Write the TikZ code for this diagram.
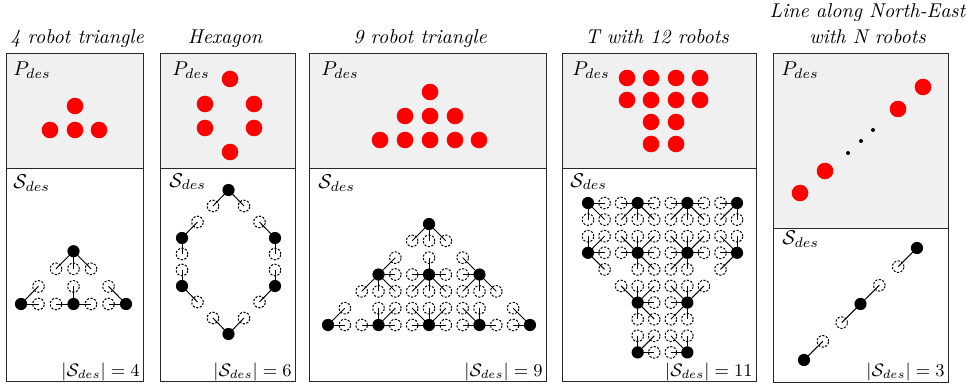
\documentclass[tikz,border=0pt]{standalone}
\usetikzlibrary{calc}
\definecolor{pbg}{RGB}{240,240,240}
\definecolor{frm}{RGB}{40,40,40}
\tikzset{
 bk/.style={circle,fill=black,draw=none,minimum size=6.1pt,inner sep=0pt},
 dc/.style={circle,draw=black,dash pattern=on 1.1pt off 0.75pt,line width=0.5pt,minimum size=5.8pt,inner sep=0pt},
 link/.style={line width=0.5pt},
 rd/.style={circle,fill=red,draw=none,minimum size=8.3pt,inner sep=0pt},
 sd/.style={circle,fill=black,draw=none,minimum size=2pt,inner sep=0pt},
 ttl/.style={font=\itshape,inner sep=0pt,anchor=base},
 lbl/.style={inner sep=0pt,anchor=base west},
 cnt/.style={inner sep=0pt,anchor=base east,font=\small},
 frame/.style={draw=frm,line width=0.5pt},
}
% #1 name, #2 ox, #3 oy, #4 sx, #5 sy, #6 i, #7 j, #8 offsets
\newcommand\rbt[8]{%
  \node[bk] (#1) at ({#2+(#6)*(#4)},{#3+(#7)*(#5)}) {};
  \foreach \dx/\dy [count=\k] in {#8}{
    \node[dc] (#1n\k) at ({#2+((#6)+(\dx))*(#4)},{#3+((#7)+(\dy))*(#5)}) {};
    \draw[link] (#1.center) -- (#1n\k.center);
  }%
}
\begin{document}
\begin{tikzpicture}[x=0.5pt,y=-0.5pt]
\useasboundingbox (0,0) rectangle (975,385);

% ---------- frames ----------
\fill[pbg] (6,54) rectangle (143,169);
\draw[frame] (6,54) rectangle (143,381);
\draw[frame] (6,169) -- (143,169);

\fill[pbg] (160,54) rectangle (295,169);
\draw[frame] (160,54) rectangle (295,381);
\draw[frame] (160,169) -- (295,169);

\fill[pbg] (309,54) rectangle (546,169);
\draw[frame] (309,54) rectangle (546,381);
\draw[frame] (309,169) -- (546,169);

\fill[pbg] (562,54) rectangle (756,169);
\draw[frame] (562,54) rectangle (756,381);
\draw[frame] (562,169) -- (756,169);

\fill[pbg] (773,54) rectangle (948,228);
\draw[frame] (773,54) rectangle (948,382);
\draw[frame] (773,228) -- (948,228);

% ---------- titles ----------
\node[ttl] (t1) at (77,44) {4 robot triangle};
\node[ttl] (t2) at (225,44) {Hexagon};
\node[ttl] (t3) at (420,44) {9 robot triangle};
\node[ttl] (t4) at (657,44) {T with 12 robots};
\node[ttl] (t5a) at (867.5,18) {Line along North-East};
\node[ttl] (t5b) at (867.5,44) {with N robots};

% ---------- labels ----------
\node[lbl] (p1) at (13,76) {$P_{des}$};
\node[lbl] (p2) at (172,76) {$P_{des}$};
\node[lbl] (p3) at (321,76) {$P_{des}$};
\node[lbl] (p4) at (572,76) {$P_{des}$};
\node[lbl] (p5) at (781,76) {$P_{des}$};

\node[lbl] (s1) at (13,189) {$\mathcal{S}_{des}$};
\node[lbl] (s2) at (169,187) {$\mathcal{S}_{des}$};
\node[lbl] (s3) at (318,189) {$\mathcal{S}_{des}$};
\node[lbl] (s4) at (570,187) {$\mathcal{S}_{des}$};
\node[lbl] (s5) at (782,244) {$\mathcal{S}_{des}$};

\node[cnt] (c1) at (140,376) {$|\mathcal{S}_{des}| = 4$};
\node[cnt] (c2) at (292,376) {$|\mathcal{S}_{des}| = 6$};
\node[cnt] (c3) at (543,376) {$|\mathcal{S}_{des}| = 9$};
\node[cnt] (c4) at (753,376) {$|\mathcal{S}_{des}| = 11$};
\node[cnt] (c5) at (945,376) {$|\mathcal{S}_{des}| = 3$};

% ---------- red dots ----------
\foreach \x/\y [count=\i] in {75/106,50/130,75/130,99/130}
  \node[rd] (ra\i) at (\x,\y) {};
\foreach \x/\y [count=\i] in {230/79,205/104,254/104,205/128,254/128,230/152}
  \node[rd] (rb\i) at (\x,\y) {};
\foreach \x/\y [count=\i] in {430/92,405/116,430/116,455/116,380/140,405/140,430/140,455/140,479/140}
  \node[rd] (rc\i) at (\x,\y) {};
\foreach \x/\y [count=\i] in {627/78,651/78,676/78,700/78,627/100,651/100,676/100,700/100,651/122,676/122,651/144,676/144}
  \node[rd] (rdd\i) at (\x,\y) {};
\foreach \x/\y [count=\i] in {800/193,825/171,898/109,923/87}
  \node[rd] (re\i) at (\x,\y) {};
\foreach \x/\y [count=\i] in {848/153,861/141,873/130}
  \node[sd] (se\i) at (\x,\y) {};

% ---------- panel 1: S_des ----------
\rbt{aa}{73.5}{304}{17.5}{-17.6}{0}{3}{-1/-1,0/-1,1/-1}
\rbt{ab}{73.5}{304}{17.5}{-17.6}{-3}{0}{1/1,1/0}
\rbt{ac}{73.5}{304}{17.5}{-17.6}{0}{0}{-1/0,0/1,1/0}
\rbt{ad}{73.5}{304}{17.5}{-17.6}{3}{0}{-1/1,-1/0}

% ---------- panel 2 ----------
\rbt{ba}{228.5}{190}{15.5}{-16}{0}{0}{-1/-1,1/-1}
\rbt{bb}{228.5}{190}{15.5}{-16}{-3}{-3}{1/1,0/-1}
\rbt{bc}{228.5}{190}{15.5}{-16}{-3}{-6}{0/1,1/-1}
\rbt{bd}{228.5}{190}{15.5}{-16}{0}{-9}{-1/1,1/1}
\rbt{be}{228.5}{190}{15.5}{-16}{3}{-3}{-1/1,0/-1}
\rbt{bf}{228.5}{190}{15.5}{-16}{3}{-6}{0/1,-1/-1}

% ---------- panel 3 ----------
\rbt{ca}{429}{325}{16.83}{-16.83}{0}{6}{-1/-1,0/-1,1/-1}
\rbt{cb}{429}{325}{16.83}{-16.83}{-3}{3}{1/1,1/0,-1/-1,0/-1,1/-1}
\rbt{cc}{429}{325}{16.83}{-16.83}{0}{3}{0/1,-1/0,1/0,-1/-1,0/-1,1/-1}
\rbt{cd}{429}{325}{16.83}{-16.83}{3}{3}{-1/1,-1/0,-1/-1,0/-1,1/-1}
\rbt{ce}{429}{325}{16.83}{-16.83}{-6}{0}{1/1,1/0}
\rbt{cf}{429}{325}{16.83}{-16.83}{-3}{0}{-1/0,1/0,0/1,1/1}
\rbt{cg}{429}{325}{16.83}{-16.83}{0}{0}{-1/0,1/0,-1/1,0/1,1/1}
\rbt{ch}{429}{325}{16.83}{-16.83}{3}{0}{-1/0,1/0,-1/1,0/1}
\rbt{ci}{429}{325}{16.83}{-16.83}{6}{0}{-1/1,-1/0}

% ---------- panel 4 ----------
\rbt{da}{588}{203}{16.56}{16.6}{0}{0}{1/0,0/1,1/1}
\rbt{db}{588}{203}{16.56}{16.6}{3}{0}{-1/0,1/0,-1/1,0/1,1/1}
\rbt{dc}{588}{203}{16.56}{16.6}{6}{0}{-1/0,1/0,-1/1,0/1,1/1}
\rbt{dd}{588}{203}{16.56}{16.6}{9}{0}{-1/0,-1/1,0/1}
\rbt{de}{588}{203}{16.56}{16.6}{0}{3}{0/-1,1/-1,1/0,1/1}
\rbt{df}{588}{203}{16.56}{16.6}{3}{3}{-1/-1,0/-1,1/-1,-1/0,1/0,0/1,1/1}
\rbt{dg}{588}{203}{16.56}{16.6}{6}{3}{-1/-1,0/-1,1/-1,-1/0,1/0,-1/1,0/1}
\rbt{dh}{588}{203}{16.56}{16.6}{9}{3}{-1/-1,0/-1,-1/0,-1/1}
\rbt{di}{588}{203}{16.56}{16.6}{3}{6}{-1/-1,0/-1,1/-1,1/0,0/1,1/1}
\rbt{dj}{588}{203}{16.56}{16.6}{6}{6}{-1/-1,0/-1,1/-1,-1/0,-1/1,0/1}
\rbt{dk}{588}{203}{16.56}{16.6}{3}{9}{0/-1,1/-1,1/0}
\rbt{dl}{588}{203}{16.56}{16.6}{6}{9}{-1/-1,0/-1,-1/0}

% ---------- panel 5 ----------
\rbt{ea}{804}{360}{18.83}{-18.67}{0}{0}{1/1}
\rbt{eb}{804}{360}{18.83}{-18.67}{3}{3}{1/1,-1/-1}
\rbt{ec}{804}{360}{18.83}{-18.67}{6}{6}{-1/-1}

\end{tikzpicture}
\end{document}
